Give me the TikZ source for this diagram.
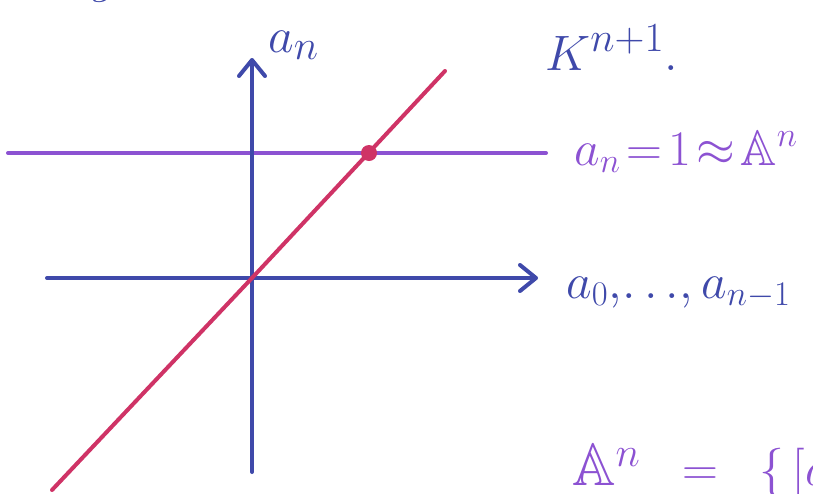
\documentclass[tikz,border=0pt]{standalone}
\usepackage{amssymb}
\usetikzlibrary{arrows.meta}
\definecolor{axisBlue}{HTML}{3F49AA}
\definecolor{lvlPurple}{HTML}{8C52D2}
\definecolor{lineRed}{HTML}{CF3366}
\begin{document}
\begin{tikzpicture}[
  x=0.5pt, y=-0.5pt,
  every node/.style={inner sep=0pt, font=\fontsize{30}{36}\selectfont},
  axis/.style={draw=axisBlue, line width=2pt, line cap=round,
               -{Straight Barb[length=8pt,width=13pt,line width=2pt,round]}},
  level/.style={draw=lvlPurple, line width=2pt, line cap=round},
  diag/.style={draw=lineRed, line width=2pt, line cap=round},
  dotpt/.style={circle, fill=lineRed, minimum size=8pt},
  blbl/.style={text=axisBlue, anchor=base west},
  plbl/.style={text=lvlPurple, anchor=base west},
  small/.style={font=\fontsize{25}{30}\selectfont},
]
\useasboundingbox (0,0) rectangle (813,493);

% ---------------- POINTS ----------------
\coordinate (O) at (252,278);
\coordinate (yBot) at (252,472);
\coordinate (yTop) at (252,58);
\coordinate (xL) at (47,278);
\coordinate (xR) at (538,278);
\coordinate (hL) at (8,153);
\coordinate (hR) at (546,153);
\coordinate (dL) at (52,490);
\coordinate (dR) at (445,71);

% ---------------- LINES ----------------
\draw[level] (hL) -- (hR);
\draw[axis] (yBot) -- (yTop);
\draw[axis] (xL) -- (xR);
\draw[diag] (dL) -- (O) -- (dR);
\node[dotpt] (P) at (369,153) {};

% ---------------- LABELS ----------------
\node[blbl] (gFrag) at (92,-8) {$g$};
\node[blbl] (an) at (268,52) {$a_n$};
\node[blbl] (Kn) at (545,70) {$K^{n+1}.$};
\node[plbl, small] (levelLbl) at (574,165) {$a_n \!=\! 1 \!\approx\! \mathbb{A}^n$};
\node[blbl, small] (xLbl) at (566,298) {$a_0,\!\ldots\!,a_{n-1}$};
\node[plbl] (defLbl) at (572,485) {$\mathbb{A}^n \;\;=\;\; \Big\{\,[a$};
\end{tikzpicture}
\end{document}
